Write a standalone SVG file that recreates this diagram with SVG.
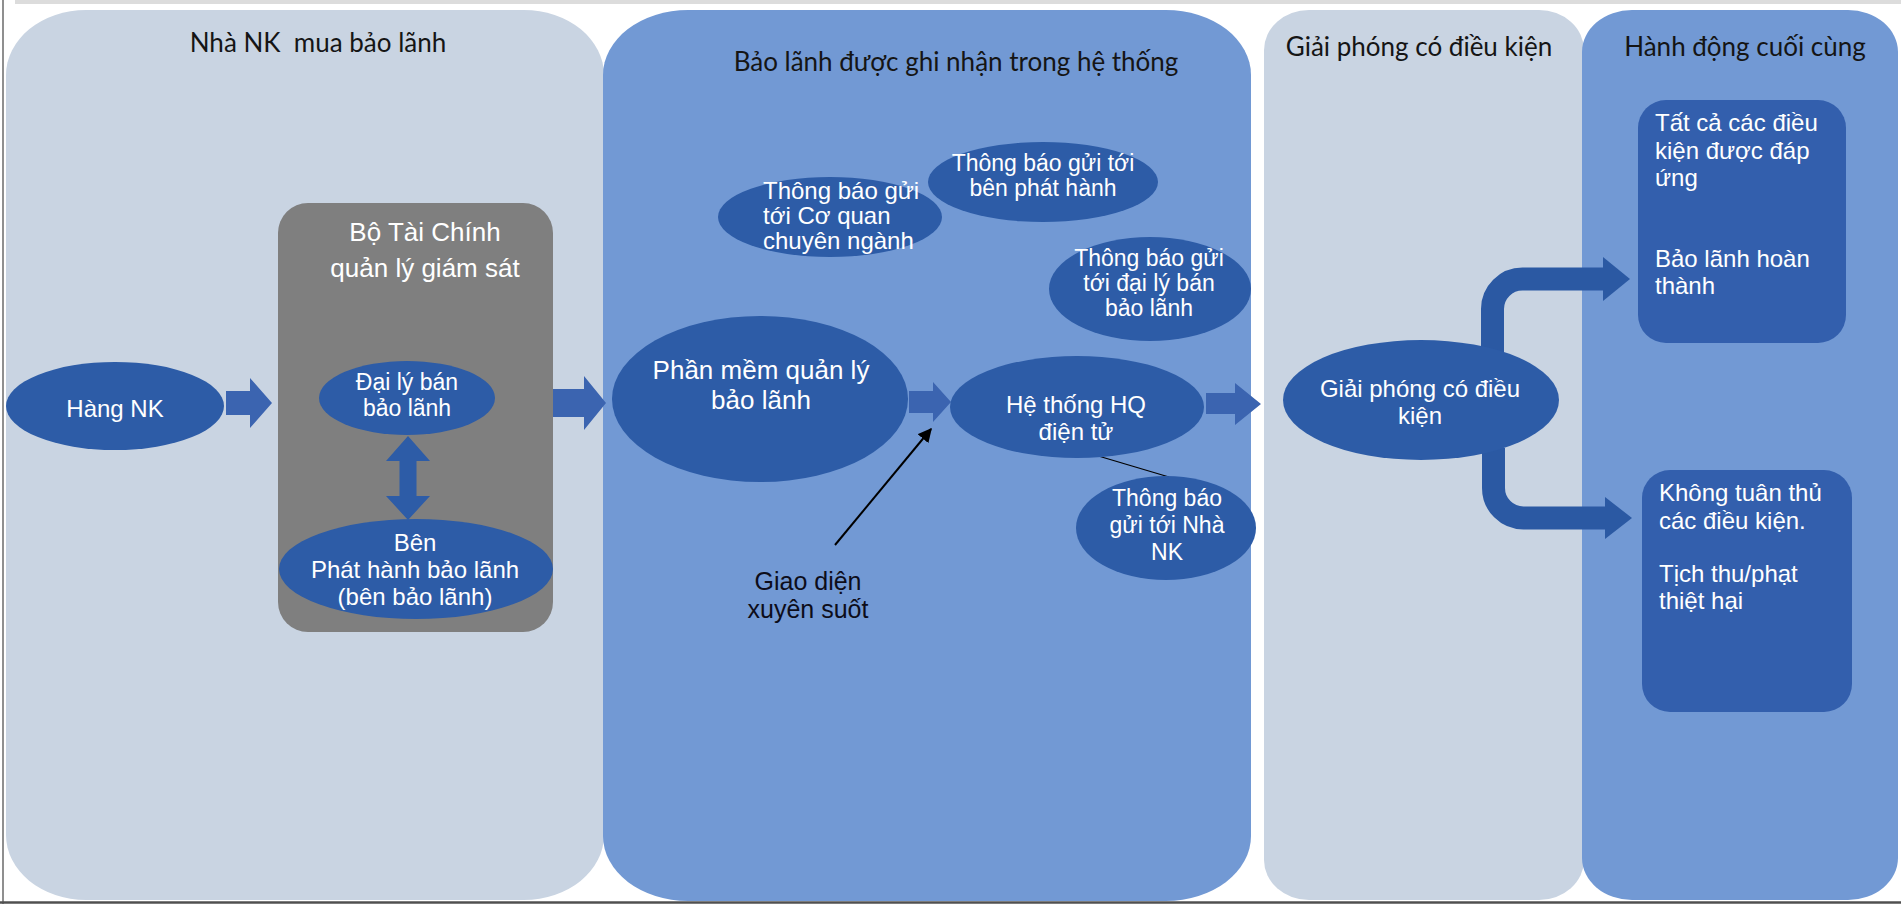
<svg xmlns="http://www.w3.org/2000/svg" width="1901" height="904" viewBox="0 0 1901 904">
<defs>
<style>
.lane-l{fill:#C9D4E2}
.lane-b{fill:#7299D4}
.node{fill:#2D5CA7}
.box{fill:#335FAD}
.blk{fill:#3B64B0}
.title{font-family:Lato,"Open Sans",sans-serif;font-size:26px;fill:#151515;text-anchor:middle}
.nt{font-family:"Liberation Sans",Arial,sans-serif;font-size:24px;fill:#fff;text-anchor:middle}
.sm{font-size:23px}
.xs{font-size:22px}
.lt{font-family:"Liberation Sans",Arial,sans-serif;font-size:24px;fill:#fff}
.blk-t{font-family:"Liberation Sans",Arial,sans-serif;font-size:25px;fill:#0d0d1a;text-anchor:middle}
</style>
<marker id="ahb" viewBox="0 0 10 10" refX="9" refY="5" markerWidth="14" markerHeight="14" orient="auto" markerUnits="userSpaceOnUse">
<path d="M0,0 L10,5 L0,10 z" fill="#000"/>
</marker>
</defs>
<rect x="0" y="0" width="1901" height="904" fill="#fff"/>
<rect x="15" y="0" width="1886" height="4" fill="#dcdcdc"/>
<line x1="3" y1="0" x2="3" y2="904" stroke="#6a6a6a" stroke-width="1.5"/>
<line x1="0" y1="902.5" x2="1901" y2="902.5" stroke="#505050" stroke-width="2.5"/>

<g id="lanes">
<g id="lane1"><rect class="lane-l" x="6" y="10" width="598" height="890" rx="80" ry="65"/><text class="title" x="318" y="52">Nhà NK&#160; mua bảo lãnh</text></g>
<g id="lane2"><rect class="lane-b" x="603" y="10" width="648" height="891" rx="85" ry="65"/><text class="title" x="956" y="71">Bảo lãnh được ghi nhận trong hệ thống</text></g>
<g id="lane3"><rect class="lane-l" x="1264" y="10" width="320" height="890" rx="45" ry="40"/><text class="title" x="1419" y="56">Giải phóng có điều kiện</text></g>
<g id="lane4"><rect class="lane-b" x="1582" y="10" width="316" height="890" rx="50" ry="42"/><text class="title" x="1745" y="56">Hành động cuối cùng</text></g>
</g>

<g id="mof">
<rect x="278" y="203" width="275" height="429" rx="30" ry="30" fill="#7F7F7F"/>
<text class="nt" x="425" y="241" style="font-size:26px">Bộ Tài Chính</text>
<text class="nt" x="425" y="277" style="font-size:26px">quản lý giám sát</text>
</g>

<g id="connectors">
<polygon class="blk" points="226,391 250,391 250,378 272,403 250,428 250,415 226,415"/>
<polygon class="blk" points="553,389 584,389 584,376 606,403 584,430 584,417 553,417"/>
<polygon class="blk" points="909,391 933,391 933,382 951,402 933,422 933,413 909,413"/>
<polygon class="blk" points="1206,393 1235,393 1235,383 1261,404 1235,425 1235,414 1206,414"/>
<polygon fill="#2D5CA7" points="408,436 430,461 416.5,461 416.5,496 430,496 408,520 386,496 399.5,496 399.5,461 386,461"/>
<path d="M1492.5 352 V309 A30 30 0 0 1 1522.5 279 H1606" fill="none" stroke="#2B59A3" stroke-width="23"/>
<polygon fill="#2B59A3" points="1603,257 1630,279 1603,301"/>
<path d="M1493.5 448 V488 A30 30 0 0 0 1523.5 518 H1608" fill="none" stroke="#2B59A3" stroke-width="23"/>
<polygon fill="#2B59A3" points="1605,497 1632,518 1605,539"/>
<line x1="835" y1="545" x2="931" y2="429" stroke="#000" stroke-width="2" marker-end="url(#ahb)"/>
<line x1="1095" y1="455" x2="1169" y2="477" stroke="#000" stroke-width="1.3"/>
</g>

<g id="hang-nk"><ellipse class="node" cx="115" cy="406" rx="109" ry="44"/><text class="nt" x="115" y="417">Hàng NK</text></g>
<g id="dai-ly"><ellipse class="node" cx="407" cy="398" rx="88" ry="37"/><text class="nt" x="407" y="390" style="font-size:23px">Đại lý bán</text><text class="nt" x="407" y="416" style="font-size:23px">bảo lãnh</text></g>
<g id="ben-phat-hanh"><ellipse class="node" cx="416" cy="569" rx="137" ry="50"/><text class="nt" x="415" y="551">Bên</text><text class="nt" x="415" y="578">Phát hành bảo lãnh</text><text class="nt" x="415" y="605">(bên bảo lãnh)</text></g>
<g id="phan-mem"><ellipse class="node" cx="760" cy="399" rx="148" ry="83"/><text class="nt" x="761" y="379" style="font-size:26px">Phần mềm quản lý</text><text class="nt" x="761" y="409" style="font-size:26px">bảo lãnh</text></g>
<g id="tb-co-quan"><ellipse class="node" cx="830" cy="217" rx="112" ry="40"/><text class="lt xs" x="763" y="199">Thông báo gửi</text><text class="lt xs" x="763" y="224">tới Cơ quan</text><text class="lt xs" x="763" y="249">chuyên ngành</text></g>
<g id="tb-ben-phat-hanh"><ellipse class="node" cx="1043" cy="182" rx="115" ry="40"/><text class="nt sm" x="1043" y="171">Thông báo gửi tới</text><text class="nt sm" x="1043" y="196">bên phát hành</text></g>
<g id="tb-dai-ly"><ellipse class="node" cx="1150" cy="289" rx="101" ry="52"/><text class="nt sm" x="1149" y="266">Thông báo gửi</text><text class="nt sm" x="1149" y="291">tới đại lý bán</text><text class="nt sm" x="1149" y="316">bảo lãnh</text></g>
<g id="he-thong-hq"><ellipse class="node" cx="1077" cy="407" rx="127" ry="51"/><text class="nt" x="1076" y="413">Hệ thống HQ</text><text class="nt" x="1076" y="440">điện tử</text></g>
<g id="tb-nha-nk"><ellipse class="node" cx="1166" cy="528" rx="90" ry="52"/><text class="nt sm" x="1167" y="506">Thông báo</text><text class="nt sm" x="1167" y="533">gửi tới Nhà</text><text class="nt sm" x="1167" y="560">NK</text></g>
<g id="giao-dien"><text class="blk-t" x="808" y="590">Giao diện</text><text class="blk-t" x="808" y="618">xuyên suốt</text></g>
<g id="giai-phong"><ellipse class="node" cx="1421" cy="400" rx="138" ry="60"/><text class="nt" x="1420" y="397">Giải phóng có điều</text><text class="nt" x="1420" y="424">kiện</text></g>
<g id="dap-ung"><rect class="box" x="1638" y="100" width="208" height="243" rx="28" ry="28"/><text class="lt" x="1655" y="131">Tất cả các điều</text><text class="lt" x="1655" y="159">kiện được đáp</text><text class="lt" x="1655" y="186">ứng</text><text class="lt" x="1655" y="267">Bảo lãnh hoàn</text><text class="lt" x="1655" y="294">thành</text></g>
<g id="khong-tuan-thu"><rect class="box" x="1642" y="470" width="210" height="242" rx="28" ry="28"/><text class="lt" x="1659" y="501">Không tuân thủ</text><text class="lt" x="1659" y="529">các điều kiện.</text><text class="lt" x="1659" y="582">Tịch thu/phạt</text><text class="lt" x="1659" y="609">thiệt hại</text></g>
</svg>
